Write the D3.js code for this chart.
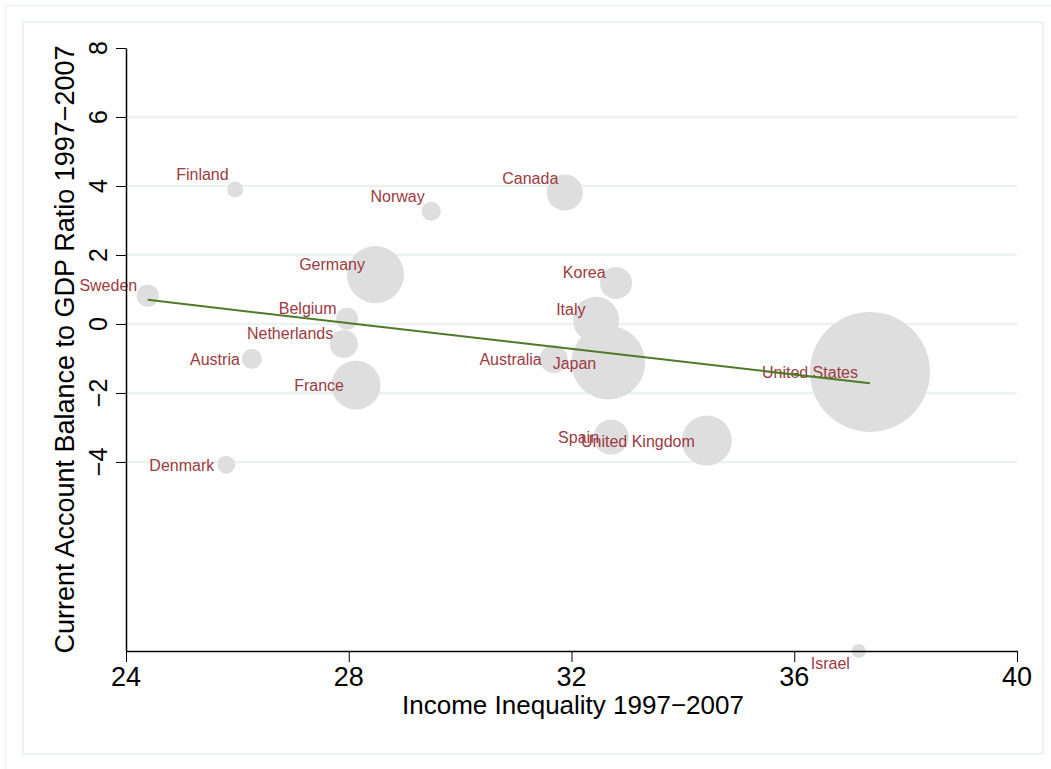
<!DOCTYPE html>
<html>
<head>
<meta charset="utf-8">
<script src="https://cdn.jsdelivr.net/npm/d3@7"></script>
<style>
  body { margin: 0; background: #fff; }
  svg { display: block; font-family: "Liberation Sans", Arial, sans-serif; }
</style>
</head>
<body>
<svg width="1051" height="769"></svg>
<script>
// data
const countries = ['Sweden', 'Finland', 'Norway', 'Germany', 'Belgium', 'Netherlands', 'Austria', 'France', 'Denmark',
  'Canada', 'Korea', 'Italy', 'Australia', 'Japan', 'Spain', 'United Kingdom', 'United States', 'Israel'];
const inequality = [24.39, 25.96, 29.48, 28.48, 27.97, 27.91, 26.26, 28.13, 25.80,
  31.88, 32.80, 32.44, 31.68, 32.66, 32.71, 34.43, 37.36, 37.16];
const balance = [0.82, 3.90, 3.27, 1.43, 0.15, -0.58, -1.01, -1.77, -4.08,
  3.81, 1.19, 0.12, -1.02, -1.12, -3.28, -3.38, -1.39, -9.48];
const gdp = [390, 205, 290, 2600, 390, 630, 320, 1920, 260,
  1040, 820, 1690, 630, 4370, 980, 2000, 11500, 160];
const labelPos = [10, 11, 11, 10, 10, 10, 9, 9, 9,
  11, 10, 10, 9, 9, 9, 9, 9, 7];
const xTicks = [24, 28, 32, 36, 40];
const yTicks = [-4, -2, 0, 2, 4, 6, 8];
const fitIntercept = 5.25, fitSlope = -0.1866;

const svg = d3.select('svg');
const frame = '#eaf2f3';

// outer and inner frames
svg.append('rect').attr('x', 5.5).attr('y', 5.5).attr('width', 1100).attr('height', 800)
  .attr('fill', 'none').attr('stroke', frame).attr('stroke-width', 1.5);
svg.append('rect').attr('x', 23).attr('y', 22).attr('width', 1020).attr('height', 732)
  .attr('fill', '#fff').attr('stroke', frame).attr('stroke-width', 2);

const x = d3.scaleLinear().domain([24, 40]).range([126, 1017]);
const y = d3.scaleLinear().domain([d3.min(balance), 8]).range([651, 48]);
const r = d3.scaleSqrt().domain([0, d3.max(gdp)]).range([0, 60]);

// gridlines
svg.append('g').selectAll('line').data(yTicks.filter(t => t < 8))
  .join('line')
  .attr('x1', 127).attr('x2', 1017)
  .attr('y1', d => y(d)).attr('y2', d => y(d))
  .attr('stroke', frame).attr('stroke-width', 2.5);

const data = countries.map((c, i) => ({name: c, x: inequality[i], y: balance[i], w: gdp[i], pos: labelPos[i]}));

svg.append('g').selectAll('circle').data(data)
  .join('circle')
  .attr('cx', d => x(d.x)).attr('cy', d => y(d.y)).attr('r', d => r(d.w))
  .attr('fill', '#dedede');

// clock position -> label offset
const offsets = {9: [-12, 6], 10: [-10.5, -5], 11: [-6.5, -9], 7: [-9, 17.5]};
svg.append('g').selectAll('text').data(data)
  .join('text')
  .attr('x', d => x(d.x) + offsets[d.pos][0])
  .attr('y', d => y(d.y) + offsets[d.pos][1])
  .attr('text-anchor', 'end')
  .attr('font-size', 16)
  .attr('fill', '#9c3a43')
  .text(d => d.name);

// fitted line
const xr = d3.extent(inequality);
svg.append('line')
  .attr('x1', x(xr[0])).attr('y1', y(fitIntercept + fitSlope * xr[0]))
  .attr('x2', x(xr[1])).attr('y2', y(fitIntercept + fitSlope * xr[1]))
  .attr('stroke', '#4f7a28').attr('stroke-width', 2);

// axes
const xAxis = svg.append('g').attr('transform', 'translate(0,651)')
  .call(d3.axisBottom(x).tickValues(xTicks).tickSize(11).tickSizeOuter(0).tickPadding(5));
xAxis.select('.domain').attr('stroke-width', 1.5);
xAxis.selectAll('text').remove();
svg.append('g').selectAll('text').data(xTicks)
  .join('text')
  .attr('x', d => x(d)).attr('y', 686)
  .attr('text-anchor', 'middle').attr('font-size', 27)
  .text(d => d);

const yAxis = svg.append('g').attr('transform', 'translate(126,0)')
  .call(d3.axisLeft(y).tickValues(yTicks).tickSize(10).tickSizeOuter(0));
yAxis.select('.domain').attr('stroke-width', 1.5);
yAxis.selectAll('text').remove();
svg.append('g').selectAll('text').data(yTicks)
  .join('text')
  .attr('transform', d => `translate(107,${y(d)}) rotate(-90)`)
  .attr('text-anchor', 'middle').attr('font-size', 25)
  .text(d => d < 0 ? '\u2212' + Math.abs(d) : d);

svg.append('text')
  .attr('x', 573).attr('y', 714)
  .attr('text-anchor', 'middle').attr('font-size', 26)
  .text('Income Inequality 1997\u22122007');

svg.append('text')
  .attr('transform', `translate(74,349.5) rotate(-90)`)
  .attr('text-anchor', 'middle').attr('font-size', 27)
  .text('Current Account Balance to GDP Ratio 1997\u22122007');
</script>
</body>
</html>
